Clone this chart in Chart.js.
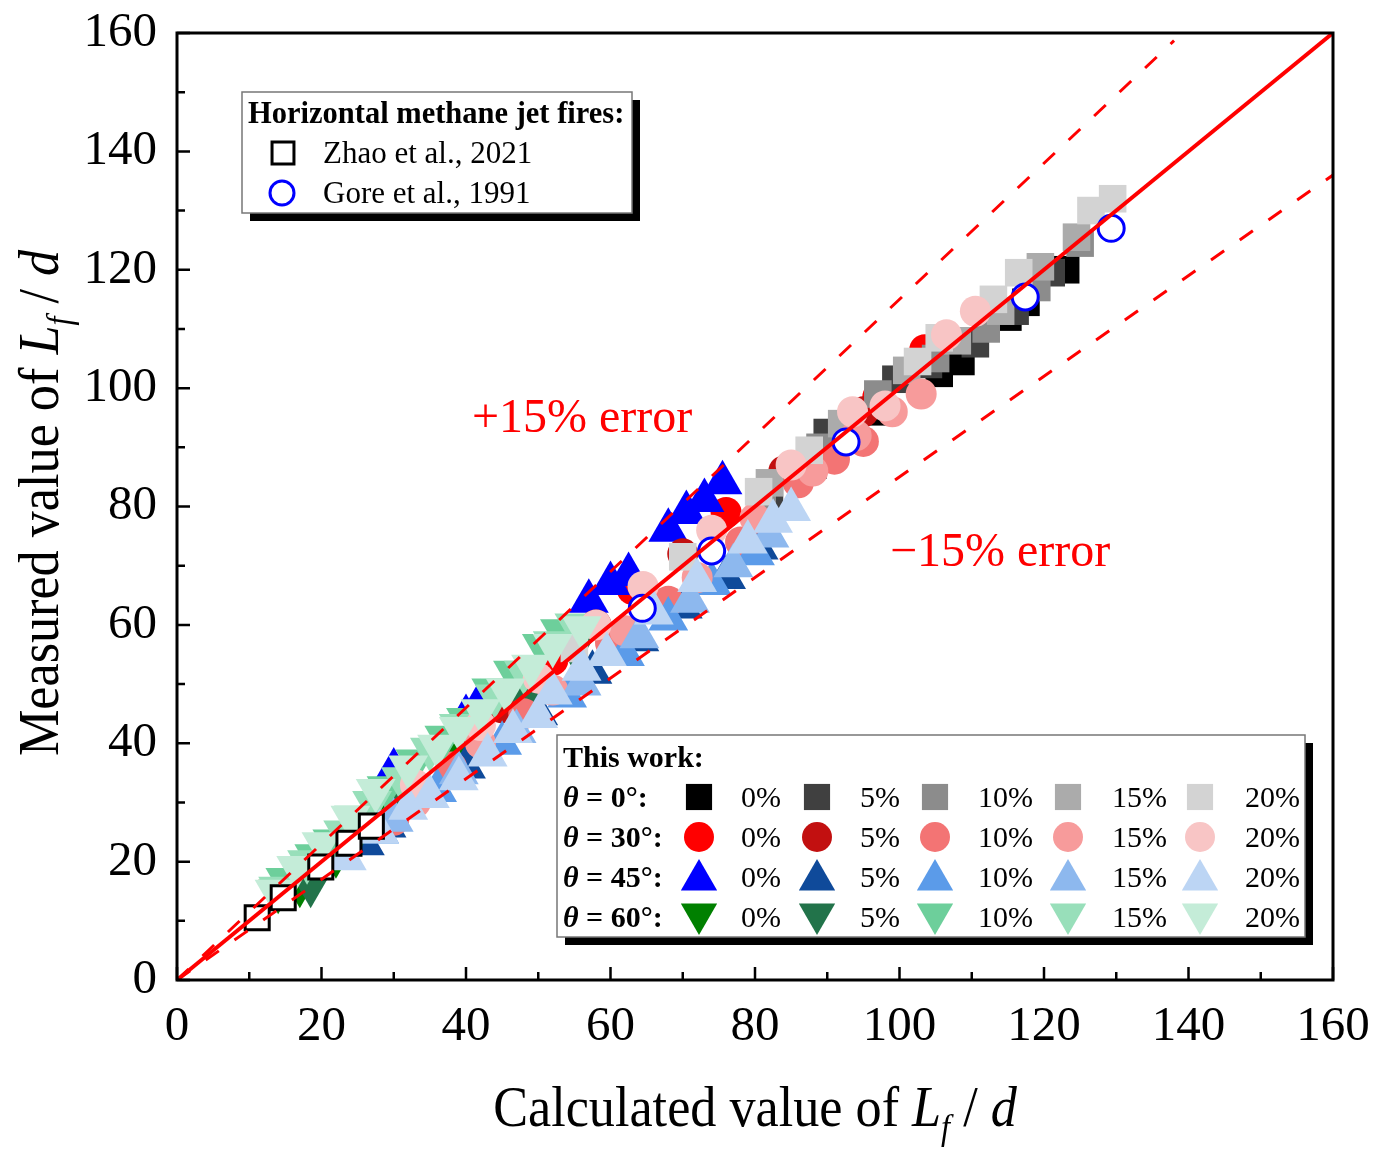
<!DOCTYPE html>
<html>
<head>
<meta charset="utf-8">
<script src="https://cdn.jsdelivr.net/npm/chart.js@4.4.1/dist/chart.umd.min.js"></script>
<style>
  html, body { margin: 0; padding: 0; background: #fff; }
  #wrap { width: 1382px; height: 1161px; }
</style>
</head>
<body>
<div id="wrap"><canvas id="lfChart" width="1382" height="1161"></canvas></div>
<script>
// reference data (open markers)
const zhaoX = [11.1, 14.7, 19.9, 23.8, 26.9];
const zhaoY = [10.5, 13.9, 19.1, 23.1, 26.0];
const goreX = [64.4, 74.0, 92.6, 117.4, 129.3];
const goreY = [62.8, 72.5, 90.9, 115.4, 127.0];

// this work, [calculated, measured] per angle and dilution
const t0_0  = [[88,87],[97,96],[105.5,102.5],[108.5,104.5],[115,112],[117.5,114.5],[123,120]];
const t0_5  = [[82,82],[90,92.5],[99.5,101.5],[104,104],[110.5,107.5],[116,113],[121,119.5]];
const t0_10 = [[81,82],[89,90],[97,99],[105,105],[112,110],[119,117],[125,124.5]];
const t0_15 = [[82,84],[92,94],[101,103],[108,108],[114,113],[119.5,120.5],[124.5,125.5]];
const t0_20 = [[55,56],[70,71.5],[80.5,82.5],[87.5,89.5],[102.5,104.5],[105.5,108.5],[113,115],[116.5,119.5],[126.5,130],[129.5,132]];

const t30_0  = [[40,42],[52,54],[63,66],[76,79],[97,98.5],[103.5,106.5]];
const t30_5  = [[45,46],[58,60],[70,72],[84,86],[95,96]];
const t30_10 = [[30,27],[38,36],[48,45],[60,57],[68,64],[78,74],[86,84],[91,88],[95,91]];
const t30_15 = [[33,30],[42,40],[52,49],[62,59],[72,68],[80,78],[88,86],[94,92],[99,96],[103,99]];
const t30_20 = [[33,33],[42,43],[50,51],[58,60],[64.5,66.5],[74,76],[85,87],[93.5,96],[98,97],[106.5,109],[110.5,113]];

const t45_0  = [[30,35.5],[40,44.5],[42,47],[57,64],[60,67],[62.5,68.5],[68,76],[70.5,79],[73,81],[75.5,84]];
const t45_5  = [[26,23],[29,26],[40,36],[50,45],[57.5,52],[64,57.5],[70,63],[76,68],[80.5,73]];
const t45_10 = [[28,25],[36,32],[45,40],[54,48],[62,55],[68,61],[74,67],[80,72]];
const t45_15 = [[30,27],[39,35],[47,42],[56,50],[64,58],[71,64],[77,70],[82,75]];
const t45_20 = [[23.5,20.5],[28,25],[32,29],[35,31],[39,34],[43,38],[46.5,42],[50,44.5],[52,48.5],[56,52.5],[59.5,55],[66,62],[72,67.5],[79,74],[82.5,77.5],[85,79.5]];

const t60_0  = [[14,15],[17,16],[22,21],[30,29],[38,38]];
const t60_5  = [[18.5,16],[24,23],[31,30],[41,42],[48,48],[55,56]];
const t60_10 = [[15,17],[19,21],[21.5,23.5],[24.5,27.5],[29,32.5],[33,37],[37,41],[40,44],[43.5,49],[46.5,52],[50.5,56.5],[53,59]];
const t60_15 = [[14,15.5],[18,20],[23,25],[27,30],[31,34],[35,39],[39,43],[44,48],[48,52],[52,57],[55,60]];
const t60_20 = [[13.5,15],[16.5,19],[20,23],[24,27.5],[27.5,32],[32,36],[36,39.5],[39,42.5],[42,45.5],[45.5,49],[49,53],[52,56.5],[56,59.5]];

const dilutions = ['0%', '5%', '10%', '15%', '20%'];
const angleLabels = ['0°', '30°', '45°', '60°'];
const parityX = [0, 160];
const upperX = [0, 138];
const errorBand = 0.15;
const tickValues = [0, 20, 40, 60, 80, 100, 120, 140, 160];

const FONT = '"Liberation Serif", "Times New Roman", serif';

const groups = [
  { data: [t0_0, t0_5, t0_10, t0_15, t0_20], style: 'rect', radius: 19.5, rotation: 0,
    colors: ['#000000', '#404040', '#8c8c8c', '#ababab', '#d3d3d3'] },
  { data: [t30_0, t30_5, t30_10, t30_15, t30_20], style: 'circle', radius: 15.5, rotation: 0,
    colors: ['#ff0000', '#c21010', '#f37474', '#f79b9b', '#f8c5c5'] },
  { data: [t45_0, t45_5, t45_10, t45_15, t45_20], style: 'triangle', radius: 23, rotation: 0,
    colors: ['#0000ff', '#0f4a9a', '#5b9be9', '#8db8ee', '#bcd5f4'] },
  { data: [t60_0, t60_5, t60_10, t60_15, t60_20], style: 'triangle', radius: 23, rotation: 180,
    colors: ['#008000', '#22734a', '#6dcf9b', '#98dfba', '#c4ecd8'] }
];

const datasets = [];
let drawIdx = 0;
for (let c = 0; c < dilutions.length; c++) {
  groups.forEach((g, gi) => {
    datasets.push({
      label: 'θ = ' + angleLabels[gi] + ' ' + dilutions[c],
      data: g.data[c].map(p => ({ x: p[0], y: p[1] })),
      pointStyle: g.style,
      pointRadius: g.radius,
      pointRotation: g.rotation,
      backgroundColor: g.colors[c],
      borderWidth: 0,
      order: 200 - drawIdx
    });
    drawIdx++;
  });
}

datasets.push({
  label: 'Zhao et al., 2021',
  data: zhaoX.map((x, i) => ({ x: x, y: zhaoY[i] })),
  pointStyle: 'rect', pointRadius: 17, backgroundColor: '#ffffff',
  borderColor: '#000000', borderWidth: 3, order: 2
});
datasets.push({
  label: 'Gore et al., 1991',
  data: goreX.map((x, i) => ({ x: x, y: goreY[i] })),
  pointStyle: 'circle', pointRadius: 13, backgroundColor: '#ffffff',
  borderColor: '#0000ff', borderWidth: 3, order: 1
});
datasets.push({
  label: 'parity',
  data: parityX.map(x => ({ x: x, y: x })),
  showLine: true, pointRadius: 0, borderColor: '#ff0000', borderWidth: 4, order: 0
});
datasets.push({
  label: '+15%',
  data: upperX.map(x => ({ x: x, y: x * (1 + errorBand) })),
  showLine: true, pointRadius: 0, borderColor: '#ff0000', borderWidth: 3,
  borderDash: [16, 19], order: 0
});
datasets.push({
  label: '-15%',
  data: parityX.map(x => ({ x: x, y: x * (1 - errorBand) })),
  showLine: true, pointRadius: 0, borderColor: '#ff0000', borderWidth: 3,
  borderDash: [16, 19], order: 0
});

function fontOf(p, size) {
  const s = p.sub ? Math.round(size * 0.62) : size;
  return (p.italic ? 'italic ' : '') + (p.bold ? 'bold ' : '') + s + 'px ' + FONT;
}
function richWidth(ctx, parts, size) {
  let w = 0;
  parts.forEach(p => { ctx.font = fontOf(p, size); w += ctx.measureText(p.t).width; });
  return w;
}
function drawRich(ctx, parts, size, x, y) {
  parts.forEach(p => {
    ctx.font = fontOf(p, size);
    ctx.fillText(p.t, x, y + (p.sub ? size * 0.22 : 0));
    x += ctx.measureText(p.t).width;
  });
}

function marker(ctx, style, x, y, r, rot) {
  ctx.beginPath();
  if (style === 'rect') {
    const s = r * Math.SQRT1_2;
    ctx.rect(x - s, y - s, 2 * s, 2 * s);
  } else if (style === 'circle') {
    ctx.arc(x, y, r, 0, Math.PI * 2);
  } else {
    let a = (rot || 0) * Math.PI / 180;
    ctx.moveTo(x + Math.sin(a) * r, y - Math.cos(a) * r);
    a += 2 * Math.PI / 3;
    ctx.lineTo(x + Math.sin(a) * r, y - Math.cos(a) * r);
    a += 2 * Math.PI / 3;
    ctx.lineTo(x + Math.sin(a) * r, y - Math.cos(a) * r);
  }
  ctx.closePath();
}

function shadowBox(ctx, x0, y0, x1, y1) {
  ctx.fillStyle = '#000';
  ctx.fillRect(x0 + 8, y0 + 8, x1 - x0, y1 - y0);
  ctx.fillStyle = '#fff';
  ctx.fillRect(x0, y0, x1 - x0, y1 - y0);
  ctx.strokeStyle = '#777';
  ctx.lineWidth = 1.5;
  ctx.strokeRect(x0, y0, x1 - x0, y1 - y0);
}

const decor = {
  id: 'decor',
  afterDatasetsDraw(chart) {
    const ctx = chart.ctx;
    ctx.save();
    ctx.fillStyle = '#ff0000';
    ctx.font = '48px ' + FONT;
    ctx.textBaseline = 'alphabetic';
    ctx.fillText('+15% error', 472, 432);
    ctx.fillText('\u221215% error', 890, 566);
    ctx.restore();
  },
  afterDraw(chart) {
    const ctx = chart.ctx;
    const a = chart.chartArea;
    const xs = chart.scales.x, ys = chart.scales.y;
    ctx.save();
    // frame and inward ticks
    ctx.strokeStyle = '#000';
    ctx.lineWidth = 2.5;
    for (let v = 0; v <= 160; v += 10) {
      const len = v % 20 === 0 ? 13 : 8;
      const py = ys.getPixelForValue(v);
      const px = xs.getPixelForValue(v);
      ctx.beginPath();
      ctx.moveTo(a.left, py); ctx.lineTo(a.left + len, py);
      ctx.moveTo(px, a.bottom); ctx.lineTo(px, a.bottom - len);
      ctx.stroke();
    }
    ctx.lineWidth = 3;
    ctx.strokeRect(a.left, a.top, a.right - a.left, a.bottom - a.top);

    // axis titles
    ctx.fillStyle = '#000';
    ctx.textBaseline = 'alphabetic';
    const xTitle = [{ t: 'Calculated value of ' }, { t: 'L', italic: true }, { t: 'f', italic: true, sub: true }, { t: ' / ' }, { t: 'd', italic: true }];
    const yTitle = [{ t: 'Measured value of ' }, { t: 'L', italic: true }, { t: 'f', italic: true, sub: true }, { t: ' / ' }, { t: 'd', italic: true }];
    const tSize = 58, sx = 0.9;
    let w = richWidth(ctx, xTitle, tSize);
    ctx.save();
    ctx.translate(755, 1126);
    ctx.scale(sx, 1);
    drawRich(ctx, xTitle, tSize, -w / 2, 0);
    ctx.restore();
    w = richWidth(ctx, yTitle, tSize);
    ctx.save();
    ctx.translate(58, 503);
    ctx.rotate(-Math.PI / 2);
    ctx.scale(sx, 1);
    drawRich(ctx, yTitle, tSize, -w / 2, 0);
    ctx.restore();

    // legend 1
    shadowBox(ctx, 242, 92, 632, 213);
    ctx.fillStyle = '#000';
    ctx.font = 'bold 30.5px ' + FONT;
    ctx.fillText('Horizontal methane jet fires:', 248, 123);
    ctx.font = '31px ' + FONT;
    ctx.fillText('Zhao et al., 2021', 323, 163);
    ctx.fillText('Gore et al., 1991', 323, 203);
    ctx.lineWidth = 3;
    ctx.strokeStyle = '#000';
    marker(ctx, 'rect', 283, 153, 15.5);
    ctx.stroke();
    ctx.strokeStyle = '#0000ff';
    marker(ctx, 'circle', 282, 193, 12);
    ctx.stroke();

    // legend 2
    shadowBox(ctx, 557, 735, 1305, 937);
    ctx.fillStyle = '#000';
    ctx.font = 'bold 30px ' + FONT;
    ctx.fillText('This work:', 563, 767);
    const rowY = [797, 837, 877, 917];
    const markX = [699, 817, 935, 1068, 1200];
    const textX = [741, 860, 978, 1112, 1245];
    groups.forEach((g, gi) => {
      const y = rowY[gi];
      ctx.fillStyle = '#000';
      drawRich(ctx, [{ t: 'θ', italic: true, bold: true }, { t: ' = ' + angleLabels[gi] + ':', bold: true }], 30, 563, y + 10);
      for (let c = 0; c < dilutions.length; c++) {
        ctx.fillStyle = g.colors[c];
        const yy = g.style === 'triangle' ? y + (g.rotation ? -3 : 3) : y;
        const r = g.style === 'rect' ? 18.5 : (g.style === 'circle' ? 15 : 21);
        marker(ctx, g.style, markX[c], yy, r, g.rotation);
        ctx.fill();
        ctx.fillStyle = '#000';
        ctx.font = '30px ' + FONT;
        ctx.fillText(dilutions[c], textX[c], y + 10);
      }
    });
    ctx.restore();
  }
};

const axisCommon = {
  type: 'linear',
  min: 0,
  max: 160,
  grid: { display: false, drawTicks: false },
  border: { display: false },
  afterBuildTicks: s => { s.ticks = tickValues.map(v => ({ value: v })); }
};

new Chart(document.getElementById('lfChart'), {
  type: 'scatter',
  data: { datasets: datasets },
  options: {
    responsive: false,
    animation: false,
    events: [],
    layout: { padding: { left: 0, top: 33, right: 49, bottom: 0 } },
    plugins: { legend: { display: false }, tooltip: { enabled: false } },
    scales: {
      x: Object.assign({}, axisCommon, {
        ticks: { color: '#000', font: { family: FONT, size: 49 }, padding: 18, maxRotation: 0 },
        afterFit: s => { s.height = 181; s.paddingLeft = 0; s.paddingRight = 0; }
      }),
      y: Object.assign({}, axisCommon, {
        ticks: { color: '#000', font: { family: FONT, size: 49 }, padding: 20 },
        afterFit: s => { s.width = 177; s.paddingTop = 0; s.paddingBottom = 0; }
      })
    }
  },
  plugins: [decor]
});
</script>
</body>
</html>
